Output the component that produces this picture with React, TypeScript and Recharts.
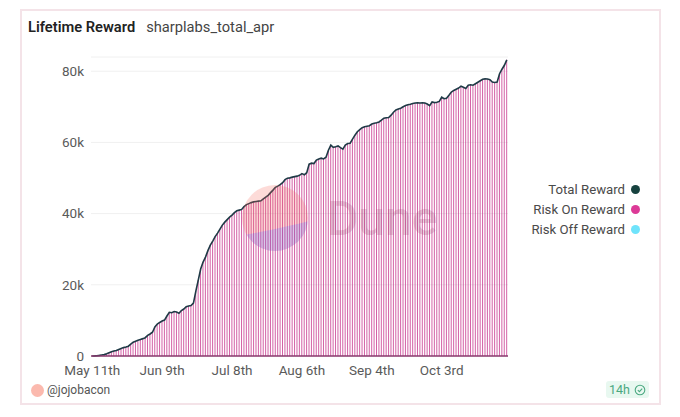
import { Bar, CartesianGrid, ComposedChart, Legend, Line, XAxis, YAxis } from "recharts";

const FONT = 'Roboto, "Noto Sans", sans-serif';
const AXIS = { fontSize: 13.5, fill: "#5a5a5a", fontFamily: FONT } as const;

// daily values, first day is May 11th
const totalReward = [
  0, 30, 80, 170, 280, 390, 620, 900, 1180, 1400,
  1570, 1850, 2130, 2360, 2530, 2750, 3310, 3870, 4150, 4430,
  4660, 4880, 5140, 5780, 6180, 6680, 8140, 8980, 9430, 9820,
  10100, 11230, 12270, 12150, 12490, 12350, 11990, 12770, 13190, 13870,
  14040, 14180, 14880, 18250, 21330, 24420, 26390, 27790, 29590, 31160,
  32280, 33540, 34530, 35650, 36770, 37610, 38320, 39020, 39580, 40280,
  40790, 40980, 41180, 41970, 42530, 42810, 43090, 43310, 43420, 43510,
  43590, 44120, 44630, 45140, 45890, 46600, 47380, 47720, 48140, 48700,
  49540, 49960, 50050, 50250, 50390, 50530, 50750, 51230, 50920, 51500,
  53900, 54180, 54060, 55020, 55350, 55580, 55350, 55860, 57820, 59230,
  58610, 58810, 59030, 58530, 58100, 59230, 59700, 59790, 60910, 62030,
  63020, 63580, 64140, 64420, 64560, 64700, 65180, 65400, 65540, 65740,
  66250, 66810, 66950, 67000, 67650, 68490, 69110, 69390, 69610, 70030,
  70370, 70570, 70740, 70930, 71070, 71130, 71070, 71160, 71100, 70790,
  70340, 71350, 71190, 71300, 71520, 72700, 72280, 72420, 73260, 74160,
  74610, 74950, 75280, 75790, 75510, 75140, 76070, 76180, 76070, 76490,
  76910, 77330, 77750, 77860, 77810, 77640, 76970, 76860, 76970, 79300,
  80560, 81680, 83200,
];
const yTicks = [0, 20000, 40000, 60000, 80000];
const xLabels = ["May 11th", "Jun 9th", "Jul 8th", "Aug 6th", "Sep 4th", "Oct 3rd"];
const legendItems = [
  { label: "Total Reward", color: "#17423f" },
  { label: "Risk On Reward", color: "#dc3a97" },
  { label: "Risk Off Reward", color: "#6fe3fb" },
];

const rows = totalReward.map((total, i) => ({
  day: i,
  total,
  riskOn: total,
}));

function LegendBox() {
  return (
    <div style={{ fontFamily: FONT, fontSize: 13.2, color: "#4a4a4a" }}>
      {legendItems.map((l) => (
        <div key={l.label} style={{ display: "flex", justifyContent: "flex-end", alignItems: "center", height: 20 }}>
          {l.label}
          <span style={{ width: 9, height: 9, borderRadius: "50%", background: l.color, marginLeft: 6 }} />
        </div>
      ))}
    </div>
  );
}

function Watermark() {
  return (
    <svg width={680} height={417} style={{ position: "absolute", left: 0, top: 0, pointerEvents: "none" }}>
      <defs>
        <clipPath id="duneTop">
          <path d="M230 170 H320 V218 C300 224 270 230 240 236 H230 Z" />
        </clipPath>
        <clipPath id="duneBottom">
          <path d="M230 260 H320 V218 C300 224 270 230 240 236 H230 Z" />
        </clipPath>
      </defs>
      <circle cx={275} cy={218} r={33} fill="#7f4fb8" fillOpacity={0.3} clipPath="url(#duneBottom)" />
      <circle cx={275} cy={218} r={33} fill="#f5685c" fillOpacity={0.24} clipPath="url(#duneTop)" />
      <text x={327} y={235} fontFamily={FONT} fontSize={48} fontWeight={500} fill="#8c2a5a" fillOpacity={0.2}>Dune</text>
    </svg>
  );
}

export default function App() {
  return (
    <div style={{ position: "absolute", left: 0, top: 0, width: 680, height: 417, background: "#fff", overflow: "hidden" }}>
      <style>{"body{margin:0}"}</style>
      <div style={{ position: "absolute", left: 20, top: 9, width: 641, height: 396, border: "2px solid #f4e3e8", boxSizing: "border-box" }} />
      <div style={{ position: "absolute", left: 28, top: 18, fontFamily: FONT, fontSize: 14.7, whiteSpace: "nowrap", color: "#222" }}>
        <span style={{ fontWeight: 600 }}>Lifetime Reward</span>
        <span style={{ marginLeft: 11, color: "#444" }}>sharplabs_total_apr</span>
      </div>
      <ComposedChart width={680} height={417} data={rows} barCategoryGap="24%"
        style={{ position: "absolute", left: 0, top: 0 }}
        margin={{ top: 57, right: 172, bottom: 31, left: 0 }}>
        <CartesianGrid vertical={false} stroke="#f0f0f0" strokeWidth={1} />
        <XAxis dataKey="day" interval={28} tick={AXIS} tickLine={false} height={30}
          axisLine={{ stroke: "#8a3a6e", strokeWidth: 1.5 }} tickMargin={3}
          tickFormatter={(_, i) => xLabels[i] ?? ""} />
        <YAxis width={91} ticks={yTicks} domain={[0, 84000]} tick={AXIS} axisLine={false} tickLine={false}
          tickMargin={1} tickFormatter={(v: number) => (v === 0 ? "0" : `${v / 1000}k`)} />
        <Bar dataKey="riskOn" name="Risk On Reward" fill="#c42c88" fillOpacity={0.75} isAnimationActive={false} />
        <Line dataKey="total" name="Total Reward" stroke="#1f3a46" strokeWidth={1.6} dot={false} isAnimationActive={false} />
        <Legend layout="vertical" align="center" verticalAlign="middle" content={<LegendBox />}
          wrapperStyle={{ left: 480, right: "auto", top: 179, width: 160, bottom: "auto" }} />
      </ComposedChart>
      <Watermark />
      <div style={{ position: "absolute", left: 31, top: 384, width: 13, height: 13, borderRadius: "50%", background: "#fbb9ae" }} />
      <div style={{ position: "absolute", left: 47, top: 383, fontFamily: FONT, fontSize: 12, color: "#555" }}>@jojobacon</div>
      <div style={{ position: "absolute", left: 606, top: 381, width: 43, height: 17, background: "#e8f8f0", borderRadius: 3, display: "flex", alignItems: "center", justifyContent: "center", gap: 4, fontFamily: FONT, fontSize: 12.5, color: "#4aa880" }}>
        14h
        <svg width={12} height={12} viewBox="0 0 12 12">
          <circle cx={6} cy={6} r={4.8} fill="none" stroke="#4aa880" strokeWidth={1.1} />
          <path d="M3.8 6.1 L5.4 7.6 L8.2 4.6" fill="none" stroke="#4aa880" strokeWidth={1.1} />
        </svg>
      </div>
    </div>
  );
}
